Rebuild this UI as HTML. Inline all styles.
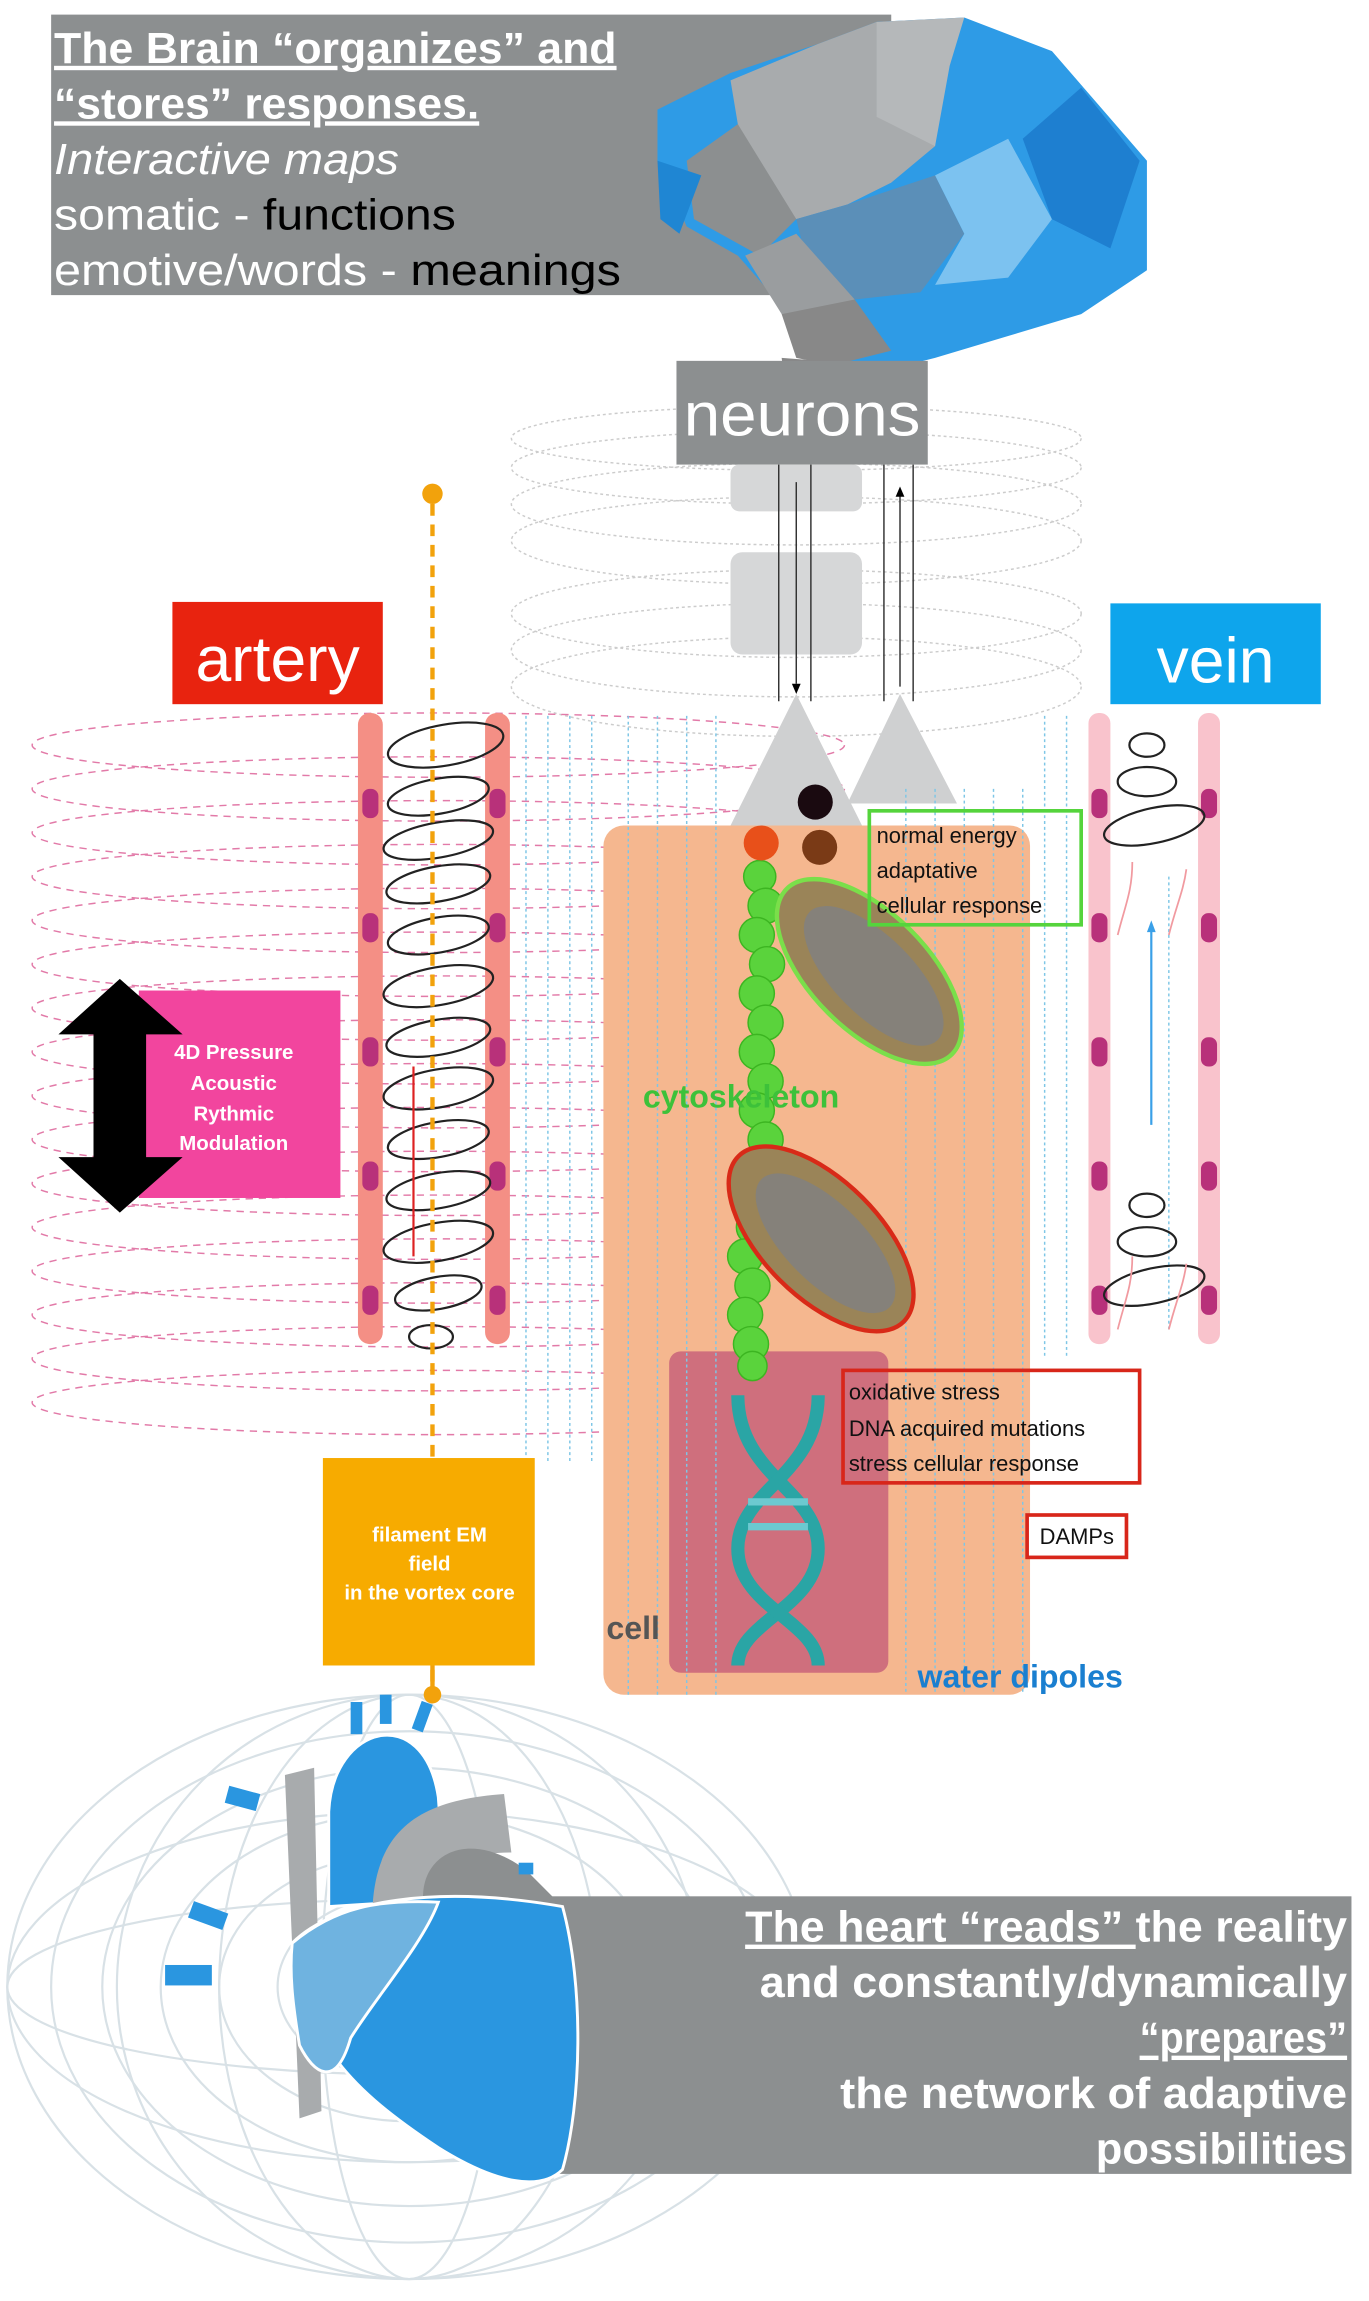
<!DOCTYPE html>
<html><head><meta charset="utf-8"><style>
html,body{margin:0;padding:0;background:#fff}
svg{display:block}
text{font-family:"Liberation Sans",sans-serif}
</style></head><body>
<svg width="1369" height="2301" viewBox="0 0 937 1575" preserveAspectRatio="none" xmlns="http://www.w3.org/2000/svg">
<rect x="35" y="10" width="575" height="192" fill="#8c8f90"/>
<!-- brain -->
<g>
<polygon points="450,75 500,50 560,30 600,15 660,12 720,35 785,110 785,185 740,215 690,230 640,245 600,255 565,250 540,215 505,175 470,155 450,110" fill="#2e9be6"/>
<polygon points="500,55 560,30 600,15 640,35 640,100 610,125 580,140 545,150 520,120 505,85" fill="#a8abad"/>
<polygon points="600,15 660,12 650,45 640,100 600,80" fill="#b5b8ba"/>
<polygon points="505,85 545,150 520,175 475,150 470,110" fill="#8c8f90"/>
<polygon points="545,150 580,140 640,120 660,160 630,200 585,205 555,190" fill="#5b8fb8"/>
<polygon points="640,120 690,95 720,150 690,190 640,195 660,160" fill="#7cc2f0"/>
<polygon points="510,175 545,160 585,205 570,230 535,215" fill="#9a9d9f"/>
<polygon points="535,215 585,205 610,240 570,250 545,245" fill="#888"/>
<polygon points="535,245 575,248 560,255 555,285 540,285" fill="#888"/>
<polygon points="450,110 480,120 465,160 452,150" fill="#1f86d3"/>
<polygon points="700,95 740,60 780,110 760,170 720,150" fill="#1e7fd0"/>
</g>
<g font-weight="bold" font-size="30" fill="#fff" lengthAdjust="spacingAndGlyphs">
<text x="37" y="43" text-decoration="underline" textLength="385" lengthAdjust="spacingAndGlyphs">The Brain “organizes” and</text>
<text x="37" y="81" text-decoration="underline" textLength="291" lengthAdjust="spacingAndGlyphs">“stores” responses.</text>
<text x="37" y="119" font-weight="normal" font-style="italic" textLength="236" lengthAdjust="spacingAndGlyphs">Interactive maps</text>
<text x="37" y="157" font-weight="normal" textLength="275" lengthAdjust="spacingAndGlyphs">somatic - <tspan fill="#000">functions</tspan></text>
<text x="37" y="195" font-weight="normal" textLength="388" lengthAdjust="spacingAndGlyphs">emotive/words  - <tspan fill="#000">meanings</tspan></text>
</g>
<g fill="none" stroke="#ccc" stroke-width="1" stroke-dasharray="2,2">
<ellipse cx="545" cy="300" rx="195" ry="22"/><ellipse cx="545" cy="320" rx="195" ry="25"/>
<ellipse cx="545" cy="345" rx="195" ry="28"/><ellipse cx="545" cy="370" rx="195" ry="30"/>
<ellipse cx="545" cy="420" rx="195" ry="30"/><ellipse cx="545" cy="445" rx="195" ry="32"/>
<ellipse cx="545" cy="470" rx="195" ry="34"/>
</g>
<g fill="none" stroke="#e27aa8" stroke-width="1" stroke-dasharray="5,4">
<ellipse cx="300" cy="510" rx="278" ry="22"/><ellipse cx="300" cy="540" rx="278" ry="22"/>
<ellipse cx="300" cy="570" rx="278" ry="22"/><ellipse cx="300" cy="600" rx="278" ry="22"/>
<ellipse cx="300" cy="630" rx="278" ry="22"/><ellipse cx="300" cy="660" rx="278" ry="22"/>
<ellipse cx="300" cy="690" rx="278" ry="22"/><ellipse cx="300" cy="720" rx="278" ry="22"/>
<ellipse cx="300" cy="750" rx="278" ry="22"/><ellipse cx="300" cy="780" rx="278" ry="22"/>
<ellipse cx="300" cy="810" rx="278" ry="22"/><ellipse cx="300" cy="840" rx="278" ry="22"/>
<ellipse cx="300" cy="870" rx="278" ry="22"/><ellipse cx="300" cy="900" rx="278" ry="22"/>
<ellipse cx="300" cy="930" rx="278" ry="22"/><ellipse cx="300" cy="960" rx="278" ry="22"/>
</g>
<rect x="463" y="247" width="172" height="71" fill="#8c8f90"/>
<text x="549" y="298" font-size="42" fill="#fff" text-anchor="middle" textLength="162" lengthAdjust="spacingAndGlyphs">neurons</text>
<rect x="500" y="318" width="90" height="32" rx="6" fill="#d6d7d8"/>
<rect x="500" y="378" width="90" height="70" rx="8" fill="#d6d7d8"/>
<g stroke="#333" stroke-width="1">
<line x1="533" y1="318" x2="533" y2="480"/><line x1="545" y1="330" x2="545" y2="468"/>
<line x1="555" y1="318" x2="555" y2="480"/><line x1="605" y1="318" x2="605" y2="480"/>
<line x1="616" y1="470" x2="616" y2="338"/><line x1="625" y1="318" x2="625" y2="480"/>
</g>
<polygon points="542,468 548,468 545,475" fill="#000"/>
<polygon points="613,340 619,340 616,333" fill="#000"/>
<polygon points="545,475 500,565 590,565" fill="#cfd0d1"/>
<polygon points="616,475 580,550 655,550" fill="#cfd0d1"/>
<rect x="118" y="412" width="144" height="70" fill="#e8230f"/>
<text x="190" y="466" font-size="44" fill="#fff" text-anchor="middle">artery</text>
<rect x="760" y="413" width="144" height="69" fill="#0ea5ec"/>
<text x="832" y="467" font-size="44" fill="#fff" text-anchor="middle">vein</text>
<rect x="413" y="565" width="292" height="595" rx="14" fill="#f5b78f"/>
<rect x="458" y="925" width="150" height="220" rx="8" fill="#cf6f7d"/>
<g stroke="#7ec6e6" stroke-width="1" stroke-dasharray="2,2">
<line x1="360" y1="490" x2="360" y2="1000"/><line x1="375" y1="490" x2="375" y2="1000"/>
<line x1="390" y1="490" x2="390" y2="1000"/><line x1="405" y1="490" x2="405" y2="1000"/>
<line x1="430" y1="490" x2="430" y2="1160"/><line x1="450" y1="490" x2="450" y2="1160"/>
<line x1="470" y1="490" x2="470" y2="1160"/><line x1="490" y1="490" x2="490" y2="1160"/>
<line x1="620" y1="540" x2="620" y2="1160"/><line x1="640" y1="540" x2="640" y2="1160"/>
<line x1="660" y1="540" x2="660" y2="1160"/><line x1="680" y1="540" x2="680" y2="1160"/>
<line x1="700" y1="540" x2="700" y2="1160"/><line x1="715" y1="490" x2="715" y2="930"/>
<line x1="730" y1="490" x2="730" y2="930"/><line x1="800" y1="600" x2="800" y2="910"/>
</g>
<rect x="245" y="488" width="17" height="432" rx="8" fill="#f48f85"/>
<rect x="332" y="488" width="17" height="432" rx="8" fill="#f48f85"/>
<g fill="#b8317a">
<rect x="248" y="540" width="11" height="20" rx="5"/><rect x="335" y="540" width="11" height="20" rx="5"/>
<rect x="248" y="625" width="11" height="20" rx="5"/><rect x="335" y="625" width="11" height="20" rx="5"/>
<rect x="248" y="710" width="11" height="20" rx="5"/><rect x="335" y="710" width="11" height="20" rx="5"/>
<rect x="248" y="795" width="11" height="20" rx="5"/><rect x="335" y="795" width="11" height="20" rx="5"/>
<rect x="248" y="880" width="11" height="20" rx="5"/><rect x="335" y="880" width="11" height="20" rx="5"/>
</g>
<g fill="none" stroke="#222" stroke-width="1.5">
<ellipse cx="305" cy="510" rx="40" ry="14" transform="rotate(-10 305 510)"/><ellipse cx="300" cy="545" rx="35" ry="12" transform="rotate(-10 300 545)"/>
<ellipse cx="300" cy="575" rx="38" ry="12" transform="rotate(-10 300 575)"/><ellipse cx="300" cy="605" rx="36" ry="12" transform="rotate(-10 300 605)"/>
<ellipse cx="300" cy="640" rx="35" ry="12" transform="rotate(-10 300 640)"/><ellipse cx="300" cy="675" rx="38" ry="13" transform="rotate(-10 300 675)"/>
<ellipse cx="300" cy="710" rx="36" ry="12" transform="rotate(-10 300 710)"/><ellipse cx="300" cy="745" rx="38" ry="13" transform="rotate(-10 300 745)"/>
<ellipse cx="300" cy="780" rx="35" ry="12" transform="rotate(-10 300 780)"/><ellipse cx="300" cy="815" rx="36" ry="12" transform="rotate(-10 300 815)"/>
<ellipse cx="300" cy="850" rx="38" ry="13" transform="rotate(-10 300 850)"/><ellipse cx="300" cy="885" rx="30" ry="11" transform="rotate(-10 300 885)"/>
<ellipse cx="295" cy="915" rx="15" ry="8"/>
</g>
<line x1="283" y1="730" x2="283" y2="860" stroke="#d22" stroke-width="1.5"/>
<line x1="296" y1="345" x2="296" y2="1158" stroke="#f2a20c" stroke-width="3" stroke-dasharray="8,6"/>
<circle cx="296" cy="338" r="7" fill="#f2a20c"/>
<rect x="745" y="488" width="15" height="432" rx="7" fill="#f9c3cc"/>
<rect x="820" y="488" width="15" height="432" rx="7" fill="#f9c3cc"/>
<g fill="#b8317a">
<rect x="747" y="540" width="11" height="20" rx="5"/><rect x="822" y="540" width="11" height="20" rx="5"/>
<rect x="747" y="625" width="11" height="20" rx="5"/><rect x="822" y="625" width="11" height="20" rx="5"/>
<rect x="747" y="710" width="11" height="20" rx="5"/><rect x="822" y="710" width="11" height="20" rx="5"/>
<rect x="747" y="795" width="11" height="20" rx="5"/><rect x="822" y="795" width="11" height="20" rx="5"/>
<rect x="747" y="880" width="11" height="20" rx="5"/><rect x="822" y="880" width="11" height="20" rx="5"/>
</g>
<g fill="none" stroke="#222" stroke-width="1.5">
<ellipse cx="785" cy="510" rx="12" ry="8"/><ellipse cx="785" cy="535" rx="20" ry="10"/>
<ellipse cx="790" cy="565" rx="35" ry="12" transform="rotate(-12 790 565)"/><ellipse cx="785" cy="825" rx="12" ry="8"/>
<ellipse cx="785" cy="850" rx="20" ry="10"/><ellipse cx="790" cy="880" rx="35" ry="12" transform="rotate(-12 790 880)"/>
</g>
<g fill="none" stroke="#f19aa0" stroke-width="1.2">
<path d="M765,640 C770,620 775,610 775,590"/><path d="M800,640 C805,620 810,610 812,595"/>
<path d="M765,910 C770,890 775,880 775,860"/><path d="M800,910 C805,890 810,880 812,865"/>
</g>
<line x1="788" y1="770" x2="788" y2="635" stroke="#3aa0e8" stroke-width="1.5"/>
<polygon points="785,638 791,638 788,630" fill="#3aa0e8"/>
<rect x="95" y="678" width="138" height="142" fill="#f2459e"/>
<polygon points="82,670 125,708 100,708 100,792 125,792 82,830 40,792 64,792 64,708 40,708" fill="#000"/>
<g font-size="14" font-weight="bold" fill="#fff" text-anchor="middle">
<text x="160" y="725">4D Pressure</text><text x="160" y="746">Acoustic</text>
<text x="160" y="767">Rythmic</text><text x="160" y="787">Modulation</text>
</g>
<g fill="#5ad33c" stroke="#3cb521" stroke-width="1">
<circle cx="520" cy="600" r="11"/><circle cx="524" cy="620" r="12"/><circle cx="518" cy="640" r="12"/>
<circle cx="525" cy="660" r="12"/><circle cx="518" cy="680" r="12"/><circle cx="524" cy="700" r="12"/>
<circle cx="518" cy="720" r="12"/><circle cx="524" cy="740" r="12"/><circle cx="518" cy="760" r="12"/>
<circle cx="524" cy="780" r="12"/><circle cx="518" cy="800" r="12"/><circle cx="512" cy="820" r="12"/>
<circle cx="516" cy="840" r="12"/><circle cx="510" cy="860" r="12"/><circle cx="515" cy="880" r="12"/>
<circle cx="510" cy="900" r="12"/><circle cx="514" cy="920" r="12"/><circle cx="515" cy="935" r="10"/>
</g>
<circle cx="521" cy="577" r="12" fill="#e8501a"/>
<circle cx="558" cy="549" r="12" fill="#1a0a10"/>
<circle cx="561" cy="580" r="12" fill="#7a3a16"/>
<ellipse cx="595" cy="665" rx="80" ry="40" transform="rotate(45 595 665)" fill="#9a8458" stroke="#7adf4a" stroke-width="3"/>
<ellipse cx="598" cy="668" rx="62" ry="27" transform="rotate(45 598 668)" fill="#85817a"/>
<ellipse cx="562" cy="848" rx="80" ry="40" transform="rotate(45 562 848)" fill="#9a8458" stroke="#d82a18" stroke-width="3"/>
<ellipse cx="565" cy="851" rx="62" ry="27" transform="rotate(45 565 851)" fill="#85817a"/>
<text x="440" y="758" font-size="22" fill="#3dc13a" font-weight="bold">cytoskeleton</text>
<g fill="none" stroke="#2aa5a5" stroke-width="9">
<path d="M505,955 C505,1010 560,1020 560,1060 C560,1100 505,1110 505,1140"/>
<path d="M560,955 C560,1010 505,1020 505,1060 C505,1100 560,1110 560,1140"/>
</g>
<g stroke="#6cc9d0" stroke-width="5"><line x1="512" y1="1028" x2="553" y2="1028"/><line x1="512" y1="1045" x2="553" y2="1045"/></g>
<text x="415" y="1122" font-size="22" fill="#555" font-weight="bold">cell</text>
<text x="628" y="1155" font-size="22" fill="#1a7fd0" font-weight="bold">water dipoles</text>
<rect x="595" y="555" width="145" height="78" fill="none" stroke="#55d43c" stroke-width="2.5"/>
<g font-size="15" fill="#111"><text x="600" y="577">normal energy</text><text x="600" y="601">adaptative</text><text x="600" y="625">cellular response</text></g>
<rect x="577" y="938" width="203" height="77" fill="none" stroke="#d8261a" stroke-width="2.5"/>
<g font-size="15" fill="#111"><text x="581" y="958">oxidative stress</text><text x="581" y="983">DNA acquired mutations</text><text x="581" y="1007">stress cellular response</text></g>
<rect x="703" y="1037" width="68" height="29" fill="#fff" stroke="#d8261a" stroke-width="2.5"/>
<text x="737" y="1057" font-size="15" fill="#111" text-anchor="middle">DAMPs</text>
<rect x="221" y="998" width="145" height="142" fill="#f7ab00"/>
<g font-size="14" font-weight="bold" fill="#fff" text-anchor="middle">
<text x="294" y="1055">filament EM</text><text x="294" y="1075">field</text><text x="294" y="1095">in the vortex core</text></g>
<!-- torus grid -->
<g fill="none" stroke="#d8e1e6" stroke-width="1.5">
<ellipse cx="280" cy="1360" rx="275" ry="200"/><ellipse cx="280" cy="1360" rx="245" ry="175"/>
<ellipse cx="280" cy="1360" rx="210" ry="150"/><ellipse cx="280" cy="1360" rx="170" ry="120"/>
<ellipse cx="280" cy="1360" rx="130" ry="92"/><ellipse cx="280" cy="1360" rx="90" ry="64"/>
<ellipse cx="280" cy="1360" rx="50" ry="38"/>
<ellipse cx="280" cy="1360" rx="275" ry="60"/><ellipse cx="280" cy="1360" rx="275" ry="120"/>
<ellipse cx="280" cy="1360" rx="60" ry="200"/><ellipse cx="280" cy="1360" rx="130" ry="200"/>
<ellipse cx="280" cy="1360" rx="200" ry="200"/>
</g>
<!-- bottom gray box (under heart) -->
<rect x="370" y="1298" width="555" height="190" fill="#8c8f90"/>
<circle cx="296" cy="1160" r="6" fill="#f2a20c"/>
<line x1="296" y1="1140" x2="296" y2="1160" stroke="#f2a20c" stroke-width="3"/>
<!-- heart -->
<g>
<path d="M195,1215 L215,1210 L220,1445 L205,1450 Z" fill="#a8abad"/>
<path d="M225,1240 C228,1180 290,1165 300,1230 L305,1300 L225,1305 Z" fill="#2a96e0" stroke="#fff" stroke-width="2"/>
<path d="M255,1305 C258,1250 290,1232 345,1228 L350,1268 C310,1268 295,1285 290,1305 Z" fill="#a8abad"/>
<path d="M290,1305 C285,1270 320,1250 360,1280 L380,1300 L380,1320 Z" fill="#8c8f90"/>
<path d="M200,1330 C230,1300 300,1290 385,1305 C400,1360 398,1440 385,1485 C370,1500 340,1495 300,1470 C240,1430 210,1400 200,1330 Z" fill="#2a96e0" stroke="#fff" stroke-width="2"/>
<path d="M200,1330 C230,1305 260,1300 300,1302 C290,1330 255,1370 240,1395 C230,1430 215,1420 205,1400 C200,1370 198,1350 200,1330 Z" fill="#6fb3e0" stroke="#fff" stroke-width="2"/>
<g fill="#2a96e0">
<rect x="155" y="1225" width="22" height="12" transform="rotate(15 166 1231)"/>
<rect x="130" y="1305" width="25" height="12" transform="rotate(20 142 1311)"/>
<rect x="113" y="1345" width="32" height="14"/>
<rect x="240" y="1165" width="8" height="22"/><rect x="260" y="1160" width="8" height="20"/>
<rect x="285" y="1165" width="8" height="20" transform="rotate(20 289 1175)"/>
<rect x="355" y="1275" width="10" height="8"/>
</g>
</g>
<g font-size="30" font-weight="bold" fill="#fff" text-anchor="end">
<text x="922" y="1329" textLength="412" lengthAdjust="spacingAndGlyphs"><tspan text-decoration="underline">The heart “reads” </tspan>the reality</text>
<text x="922" y="1367" textLength="402" lengthAdjust="spacingAndGlyphs">and constantly/dynamically</text>
<text x="922" y="1405" text-decoration="underline" textLength="142" lengthAdjust="spacingAndGlyphs">“prepares”</text>
<text x="922" y="1443" textLength="347" lengthAdjust="spacingAndGlyphs">the network of adaptive</text>
<text x="922" y="1481" textLength="172" lengthAdjust="spacingAndGlyphs">possibilities</text>
</g>
</svg>
</body></html>
